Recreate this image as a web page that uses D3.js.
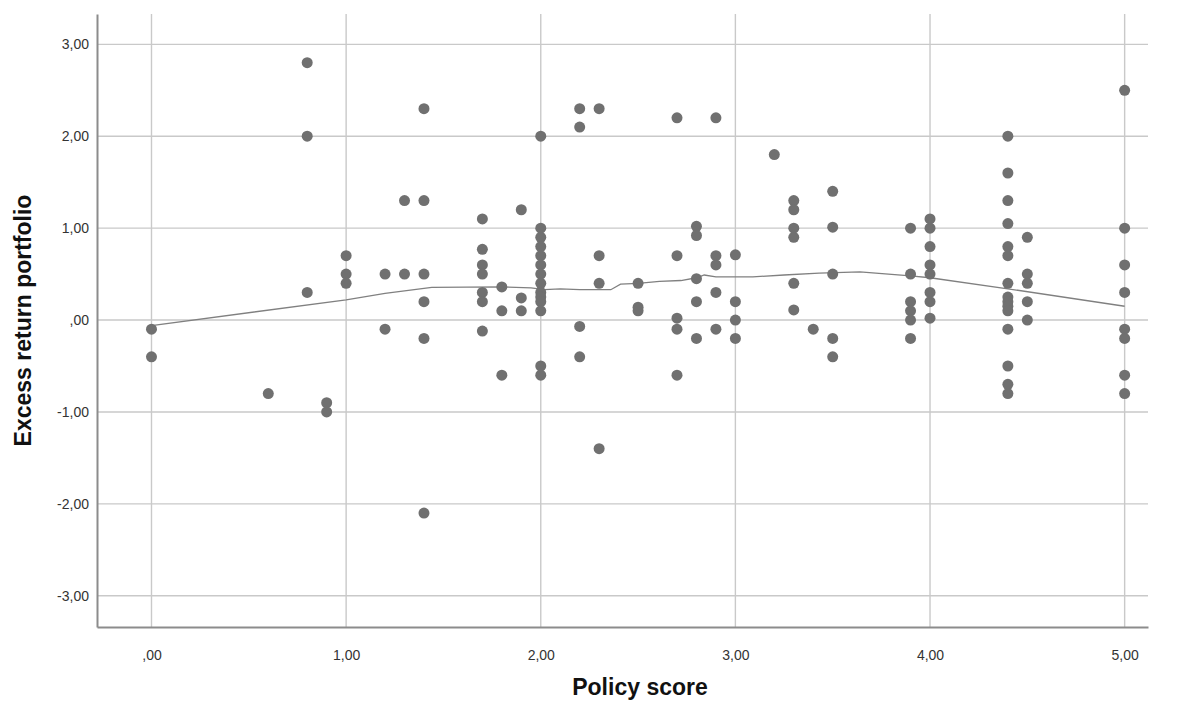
<!DOCTYPE html>
<html>
<head>
<meta charset="utf-8">
<script src="https://cdn.jsdelivr.net/npm/d3@7"></script>
<style>
  html, body { margin: 0; padding: 0; background: #fff; }
  svg { display: block; }
  text { font-family: "Liberation Sans", Arial, sans-serif; }
</style>
</head>
<body>
<svg id="chart" width="1177" height="701"></svg>
<script>
// Observations: policy score (x) and excess portfolio return (y), paired by index
const policyScore = [
  0, 0,
  0.6,
  0.8, 0.8, 0.8,
  0.9, 0.9,
  1.0, 1.0, 1.0,
  1.2, 1.2,
  1.3, 1.3,
  1.4, 1.4, 1.4, 1.4, 1.4, 1.4,
  1.7, 1.7, 1.7, 1.7, 1.7, 1.7, 1.7,
  1.8, 1.8, 1.8,
  1.9, 1.9, 1.9,
  2.0, 2.0, 2.0, 2.0, 2.0, 2.0, 2.0, 2.0, 2.0, 2.0, 2.0, 2.0, 2.0, 2.0,
  2.2, 2.2, 2.2, 2.2,
  2.3, 2.3, 2.3, 2.3,
  2.5, 2.5, 2.5,
  2.7, 2.7, 2.7, 2.7, 2.7,
  2.8, 2.8, 2.8, 2.8, 2.8,
  2.9, 2.9, 2.9, 2.9, 2.9,
  3.0, 3.0, 3.0, 3.0,
  3.2,
  3.3, 3.3, 3.3, 3.3, 3.3, 3.3,
  3.4,
  3.5, 3.5, 3.5, 3.5, 3.5,
  3.9, 3.9, 3.9, 3.9, 3.9, 3.9,
  4.0, 4.0, 4.0, 4.0, 4.0, 4.0, 4.0, 4.0,
  4.4, 4.4, 4.4, 4.4, 4.4, 4.4, 4.4, 4.4, 4.4, 4.4, 4.4, 4.4, 4.4, 4.4, 4.4,
  4.5, 4.5, 4.5, 4.5, 4.5,
  5.0, 5.0, 5.0, 5.0, 5.0, 5.0, 5.0, 5.0
];
const excessReturn = [
  -0.1, -0.4,
  -0.8,
  2.8, 2.0, 0.3,
  -0.9, -1.0,
  0.7, 0.5, 0.4,
  0.5, -0.1,
  1.3, 0.5,
  2.3, 1.3, 0.5, 0.2, -0.2, -2.1,
  1.1, 0.77, 0.6, 0.5, 0.3, 0.2, -0.12,
  0.36, 0.1, -0.6,
  1.2, 0.24, 0.1,
  2.0, 1.0, 0.9, 0.8, 0.7, 0.6, 0.5, 0.4, 0.3, 0.25, 0.2, 0.1, -0.5, -0.6,
  2.3, 2.1, -0.07, -0.4,
  2.3, 0.7, 0.4, -1.4,
  0.4, 0.14, 0.1,
  2.2, 0.7, 0.02, -0.1, -0.6,
  1.02, 0.92, 0.45, 0.2, -0.2,
  2.2, 0.7, 0.6, 0.3, -0.1,
  0.71, 0.2, 0.0, -0.2,
  1.8,
  1.3, 1.2, 1.0, 0.9, 0.4, 0.11,
  -0.1,
  1.4, 1.01, 0.5, -0.2, -0.4,
  1.0, 0.5, 0.2, 0.1, 0.0, -0.2,
  1.1, 1.0, 0.8, 0.6, 0.5, 0.3, 0.2, 0.02,
  2.0, 1.6, 1.3, 1.05, 0.8, 0.7, 0.4, 0.25, 0.2, 0.15, 0.1, -0.1, -0.5, -0.7, -0.8,
  0.9, 0.5, 0.4, 0.2, 0.0,
  2.5, 1.0, 0.6, 0.3, -0.1, -0.2, -0.6, -0.8
];

// Loess fit line (x, fitted y)
const fitX = [0, 1.0, 1.2, 1.44, 1.8, 1.95, 2.02, 2.1, 2.2, 2.36, 2.41, 2.5, 2.61, 2.72, 2.8, 2.84, 2.9, 3.09, 3.25, 3.43, 3.64, 3.9, 4.0, 4.4, 5.0];
const fitY = [-0.06, 0.22, 0.29, 0.355, 0.36, 0.35, 0.33, 0.34, 0.33, 0.33, 0.39, 0.40, 0.42, 0.43, 0.46, 0.49, 0.47, 0.47, 0.49, 0.51, 0.525, 0.48, 0.46, 0.34, 0.15];

const xTicks = [0, 1, 2, 3, 4, 5];
const yTicks = [-3, -2, -1, 0, 1, 2, 3];

const xTitle = "Policy score";
const yTitle = "Excess return portfolio";

const svg = d3.select("#chart");
const plotLeft = 97, plotRight = 1148, plotTop = 14, plotBottom = 627;

const x = d3.scaleLinear().domain([-0.28, 5.12]).range([plotLeft, plotRight]);
const y = d3.scaleLinear().domain([-3.34, 3.33]).range([plotBottom, plotTop]);

// Decimal comma labels with a plain hyphen: ",00", "1,00", "-1,00"
const fmt = v => {
  let s = d3.format(".2f")(v).replace(".", ",").replace("\u2212", "-");
  if (s.startsWith("0,")) s = s.slice(1);
  return s;
};

// Gridlines
const grid = svg.append("g").attr("stroke", "#c9c9c9").attr("stroke-width", 1.4);
grid.selectAll("line.v").data(xTicks).join("line")
  .attr("class", "v")
  .attr("x1", d => x(d)).attr("x2", d => x(d))
  .attr("y1", plotTop).attr("y2", plotBottom);
grid.selectAll("line.h").data(yTicks).join("line")
  .attr("class", "h")
  .attr("x1", plotLeft).attr("x2", plotRight)
  .attr("y1", d => y(d)).attr("y2", d => y(d));

// Axes
const xAxis = svg.append("g")
  .attr("transform", `translate(0,${plotBottom})`)
  .call(d3.axisBottom(x).tickValues(xTicks).tickFormat(fmt).tickSize(0).tickPadding(23));
const yAxis = svg.append("g")
  .attr("transform", `translate(${plotLeft},0)`)
  .call(d3.axisLeft(y).tickValues(yTicks).tickFormat(fmt).tickSize(0).tickPadding(8));

[xAxis, yAxis].forEach(g => {
  g.select(".domain").attr("stroke", "#8c8c8c").attr("stroke-width", 2);
  g.selectAll("text").attr("font-size", 14).attr("fill", "#333")
    .attr("font-family", "'Liberation Sans', Arial, sans-serif");
});

// Loess line
const fitPts = fitX.map((v, i) => [v, fitY[i]]);
svg.append("path")
  .datum(fitPts)
  .attr("fill", "none")
  .attr("stroke", "#808080")
  .attr("stroke-width", 1.3)
  .attr("d", d3.line().x(d => x(d[0])).y(d => y(d[1])));

// Points
const pts = policyScore.map((v, i) => [v, excessReturn[i]]);
svg.append("g").selectAll("circle").data(pts).join("circle")
  .attr("cx", d => x(d[0]))
  .attr("cy", d => y(d[1]))
  .attr("r", 5.5)
  .attr("fill", "#707070");

// Axis titles
svg.append("text")
  .attr("x", 640).attr("y", 695)
  .attr("text-anchor", "middle")
  .attr("font-size", 23).attr("font-weight", "bold").attr("fill", "#111")
  .text(xTitle);
svg.append("text")
  .attr("transform", `translate(31,${(plotTop + plotBottom) / 2}) rotate(-90)`)
  .attr("text-anchor", "middle")
  .attr("font-size", 23).attr("font-weight", "bold").attr("fill", "#111")
  .text(yTitle);
</script>
</body>
</html>
